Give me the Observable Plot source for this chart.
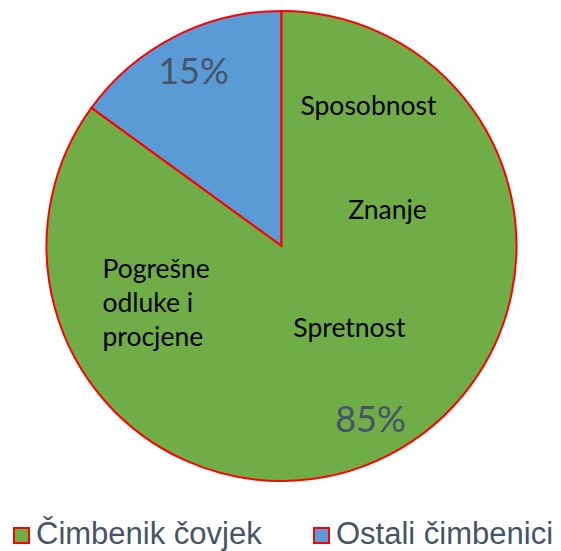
<!DOCTYPE html>
<html><head><meta charset="utf-8">
<script src="https://cdn.jsdelivr.net/npm/d3@7"></script>
<script src="https://cdn.jsdelivr.net/npm/@observablehq/plot@0.6"></script>
<style>
html,body{margin:0;padding:0;background:#fff;}
#chart{position:relative;width:561px;height:551px;overflow:hidden;}
#legend{position:absolute;left:0;top:0;width:561px;height:551px;pointer-events:none;}
.sw{position:absolute;width:13px;height:13px;border:2px solid #FF0000;}
.lt{position:absolute;font-family:"Liberation Sans",Arial,sans-serif;font-size:31px;color:#44546A;white-space:nowrap;line-height:1;}
</style></head>
<body><div id="chart"></div>
<script>
// data
const categories = ["Ostali čimbenici", "Čimbenik čovjek"];
const values = [15, 85];
const sliceColors = ["#5B9BD5", "#70AD47"];
const legendOrder = ["Čimbenik čovjek", "Ostali čimbenici"];
const factorTexts = ["Sposobnost", "Znanje", "Spretnost", "Pogrešne\nodluke i\nprocjene"];
// label anchor positions in unit-circle coordinates (annotation layout)
const factorX = [0.368, 0.449, 0.287, -0.764];
const factorY = [0.596, 0.153, -0.349, -0.234];
const factorAnchor = ["middle", "middle", "middle", "start"];

const total = d3.sum(values);
const pie = d3.pie().sort(null).value(d => d.value)
  .startAngle(-2 * Math.PI * values[0] / total)
  .endAngle(2 * Math.PI - 2 * Math.PI * values[0] / total);
const slices = pie(categories.map((c, i) => ({category: c, value: values[i], color: sliceColors[i]})));
const pctLabels = slices.map(s => {
  const mid = (s.startAngle + s.endAngle) / 2;
  return {x: 0.83 * Math.sin(mid), y: 0.83 * Math.cos(mid), text: Math.round(100 * s.data.value / total) + "%"};
});
const factors = factorTexts.map((t, i) => ({text: t, x: factorX[i], y: factorY[i], anchor: factorAnchor[i]}));

const H = 516;
const font = "Lato, 'Open Sans', sans-serif";
const plot = Plot.plot({
  width: 561, height: H,
  marginLeft: 46.5, marginRight: 44.5, marginTop: 11, marginBottom: H - 481,
  x: {domain: [-1, 1], axis: null},
  y: {domain: [-1, 1], axis: null},
  style: {background: "white"},
  marks: [
    (index, scales) => {
      const cx = scales.x(0), cy = scales.y(0), r = scales.x(1) - scales.x(0);
      const g = d3.create("svg:g").attr("transform", `translate(${cx},${cy})`);
      const arc = d3.arc().innerRadius(0).outerRadius(r);
      g.selectAll("path").data(slices).join("path")
        .attr("d", arc).attr("fill", d => d.data.color)
        .attr("stroke", "#FF0000").attr("stroke-width", 2).attr("stroke-linejoin", "miter");
      return g.node();
    },
    Plot.text(factors.filter(d => d.anchor === "middle"), {x: "x", y: "y", text: "text", fill: "#000",
      fontSize: 26.5, fontFamily: font, textAnchor: "middle"}),
    Plot.text(factors.filter(d => d.anchor === "start"), {x: "x", y: "y", text: "text", fill: "#000",
      fontSize: 26.5, fontFamily: font, textAnchor: "start", lineHeight: 1.28}),
    Plot.text(pctLabels, {x: "x", y: "y", text: "text", fill: "#44546A",
      fontSize: 36, fontFamily: font, textAnchor: "middle"})
  ]
});
const chart = document.getElementById("chart");
chart.appendChild(plot);
const legend = document.createElement("div");
legend.id = "legend";
const swatchLeft = [13, 313];
const textLeft = [36, 336];
legendOrder.forEach((name, i) => {
  const sw = document.createElement("div");
  sw.className = "sw";
  sw.style.left = swatchLeft[i] + "px";
  sw.style.top = "527px";
  sw.style.background = sliceColors[categories.indexOf(name)];
  legend.appendChild(sw);
  const t = document.createElement("div");
  t.className = "lt";
  t.style.left = textLeft[i] + "px";
  t.style.top = "518px";
  t.textContent = name;
  legend.appendChild(t);
});
chart.appendChild(legend);
</script>
</body></html>
